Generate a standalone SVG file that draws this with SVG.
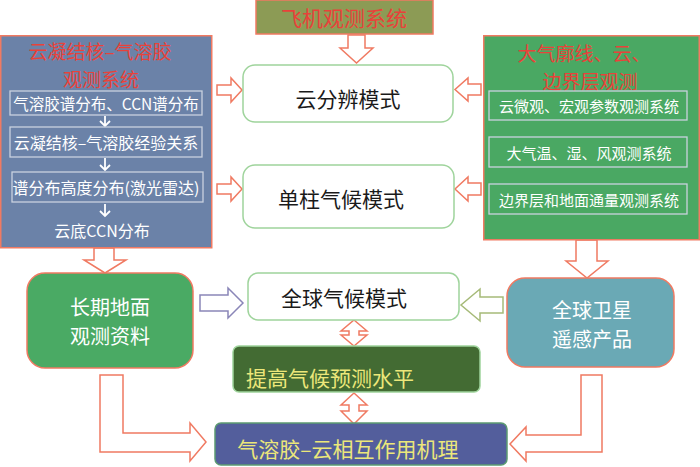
<svg xmlns="http://www.w3.org/2000/svg" width="700" height="467" viewBox="0 0 700 467">
<style>
text{font-family:"Noto Sans CJK SC","Noto Sans",sans-serif;text-anchor:middle;dominant-baseline:central}
.big{font-size:21px}
.title{font-size:19px;fill:#e8423a}
.wt{fill:#ffffff}
.bk{fill:#1a1a1a}
.yl{fill:#ece77a}
.sm{font-size:15px;fill:#ffffff}
.inner{fill:none;stroke:#c9d2df;stroke-width:1.3}
.arr{fill:#ffffff;stroke:#f07a62;stroke-width:1.5;stroke-linejoin:miter}
.model{fill:#ffffff;stroke:#9fd49c;stroke-width:1.5}
.warr{fill:none;stroke:#ffffff;stroke-width:1.8}
</style>
<rect width="700" height="467" fill="#ffffff"/>

<g id="connectors">
  <path class="arr" d="M348,35 L365,35 L365,48 L373,48 L356.5,63 L340,48 L348,48 Z"/>
  <path class="arr" d="M217,85 L231,85 L231,78 L242,90 L231,102 L231,95 L217,95 Z"/>
  <path class="arr" d="M217,184 L231,184 L231,177 L242,189 L231,201 L231,194 L217,194 Z"/>
  <path class="arr" d="M481,84 L468,84 L468,78 L455,89.5 L468,101 L468,95 L481,95 Z"/>
  <path class="arr" d="M481,183 L468,183 L468,177 L455,189 L468,201 L468,195 L481,195 Z"/>
  <path class="arr" d="M94,248 L114,248 L114,260 L126,260 L105,273 L84,260 L94,260 Z"/>
  <path class="arr" d="M576,240 L597,240 L597,261 L608,261 L587,278 L566,261 L576,261 Z"/>
  <path d="M200,295 L228,295 L228,288 L243,303 L228,318 L228,311 L200,311 Z" fill="#ffffff" stroke="#8a86b8" stroke-width="1.5"/>
  <path d="M503,297 L480,297 L480,289 L461,305 L480,321 L480,313 L503,313 Z" fill="#ffffff" stroke="#a6ba78" stroke-width="1.5"/>
  <path class="arr" d="M354,320 L367,331 L359,331 L359,335 L367,335 L354,346 L341,335 L349,335 L349,331 L341,331 Z"/>
  <path class="arr" d="M354,393 L367,405 L359,405 L359,411 L367,411 L354,424 L341,411 L349,411 L349,405 L341,405 Z"/>
  <path class="arr" d="M100,375 L123,375 L123,433 L190,433 L190,423 L206,442 L190,461 L190,452 L100,452 Z"/>
  <path class="arr" d="M581,375 L602,375 L602,452 L526,452 L526,461 L510,444 L526,427 L526,435 L581,435 Z"/>
</g>

<g id="aircraft">
  <rect x="256" y="0" width="177" height="34" fill="#8c9b55" stroke="#f07a62" stroke-width="1.5"/>
  <text class="title" x="344" y="17" style="font-size:21px">飞机观测系统</text>
</g>

<g id="ccn-system">
  <rect x="0.75" y="35.75" width="211" height="212" fill="#6b82a8" stroke="#f07a62" stroke-width="1.5"/>
  <text class="title"><tspan x="100" y="50">云凝结核–气溶胶</tspan><tspan x="101" y="77.5">观测系统</tspan></text>
  <rect class="inner" x="10" y="91" width="192" height="24"/>
  <text class="sm" x="106" y="103" style="font-size:15.5px">气溶胶谱分布、CCN谱分布</text>
  <path class="warr" d="M105,116 L105,126 M100,121 L105,126 L110,121"/>
  <rect class="inner" x="10" y="127" width="192" height="30"/>
  <text class="sm" x="106" y="142" style="font-size:16px">云凝结核–气溶胶经验关系</text>
  <path class="warr" d="M105,158 L105,170 M100,165 L105,170 L110,165"/>
  <rect class="inner" x="12" y="172" width="191" height="30"/>
  <text class="sm" x="106" y="187" style="font-size:16px">谱分布高度分布(激光雷达)</text>
  <path class="warr" d="M105,204 L105,216 M100,211 L105,216 L110,211"/>
  <text class="sm" x="102" y="230" style="font-size:16px">云底CCN分布</text>
</g>

<g id="atmos-system">
  <rect x="483.75" y="35.75" width="215.5" height="204" fill="#4aa863" stroke="#f07a62" stroke-width="1.5"/>
  <text class="title"><tspan x="584" y="52">大气廓线、云、</tspan><tspan x="590" y="79.5">边界层观测</tspan></text>
  <rect class="inner" x="489" y="91" width="198" height="29"/>
  <text class="sm" x="589" y="105">云微观、宏观参数观测系统</text>
  <rect class="inner" x="489" y="137" width="198" height="30"/>
  <text class="sm" x="589" y="152">大气温、湿、风观测系统</text>
  <rect class="inner" x="489" y="184" width="198" height="30"/>
  <text class="sm" x="589" y="199">边界层和地面通量观测系统</text>
</g>

<g id="crm">
  <rect class="model" x="243" y="65" width="210" height="57" rx="12"/>
  <text class="big bk" x="348" y="98">云分辨模式</text>
</g>

<g id="scm">
  <rect class="model" x="243" y="165" width="211" height="63" rx="12"/>
  <text class="big bk" x="341" y="198">单柱气候模式</text>
</g>

<g id="gcm">
  <rect class="model" x="248" y="273" width="211" height="47" rx="10"/>
  <text class="big bk" x="344" y="297">全球气候模式</text>
</g>

<g id="long-term">
  <rect x="27" y="273" width="166" height="95" rx="18" fill="#4aaa64" stroke="#f07a62" stroke-width="1.5"/>
  <text class="big wt" style="font-size:20px"><tspan x="110" y="305.5">长期地面</tspan><tspan x="110" y="334.5">观测资料</tspan></text>
</g>

<g id="satellite">
  <rect x="507" y="278" width="167" height="89" rx="18" fill="#6aa9b5" stroke="#f07a62" stroke-width="1.5"/>
  <text class="big wt" style="font-size:20px"><tspan x="592" y="308.5">全球卫星</tspan><tspan x="592" y="337.5">遥感产品</tspan></text>
</g>

<g id="improve">
  <rect x="233" y="346" width="247" height="46" rx="6" fill="#436b33" stroke="#9fd49c" stroke-width="1.5"/>
  <text class="big yl" x="246" y="377" style="text-anchor:start">提高气候预测水平</text>
</g>

<g id="mechanism">
  <rect x="215" y="423" width="292" height="42" rx="6" fill="#535e9c" stroke="#5c9a72" stroke-width="1.5"/>
  <text class="big yl" x="348" y="448">气溶胶–云相互作用机理</text>
</g>
</svg>
